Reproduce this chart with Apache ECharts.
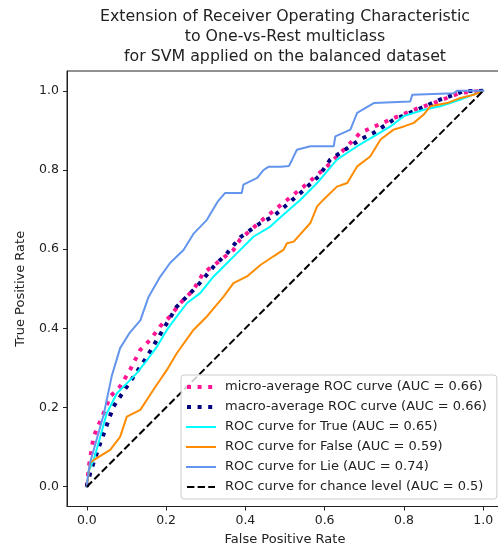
<!DOCTYPE html>
<html><head><meta charset="utf-8">
<script src="https://cdn.jsdelivr.net/npm/echarts@6/dist/echarts.min.js"></script>
<style>html,body{margin:0;padding:0;background:#fff}#c{width:498px;height:548px}</style>
</head><body><div id="c"></div>
<script>
const titleText = "Extension of Receiver Operating Characteristic\nto One-vs-Rest multiclass\nfor SVM applied on the balanced dataset";
const xName = "False Positive Rate";
const yName = "True Positive Rate";
const tickValues = [0, 0.2, 0.4, 0.6, 0.8, 1.0];

const microFpr = [0, 0.005, 0.017, 0.042, 0.059, 0.084, 0.109, 0.135, 0.16, 0.185, 0.21, 0.236, 0.269, 0.294, 0.328, 0.37, 0.387, 0.438, 0.496, 0.547, 0.606, 0.657, 0.69, 0.774, 0.825, 0.875, 0.943, 1];
const microTpr = [0, 0.05, 0.126, 0.185, 0.228, 0.253, 0.295, 0.346, 0.371, 0.405, 0.43, 0.464, 0.497, 0.54, 0.565, 0.598, 0.625, 0.67, 0.717, 0.758, 0.809, 0.86, 0.894, 0.931, 0.952, 0.969, 0.995, 1];

const macroFpr = [0, 0.01, 0.034, 0.067, 0.101, 0.118, 0.152, 0.177, 0.202, 0.227, 0.278, 0.32, 0.354, 0.387, 0.438, 0.471, 0.539, 0.585, 0.614, 0.69, 0.724, 0.774, 0.833, 0.892, 0.951, 1];
const macroTpr = [0, 0.04, 0.11, 0.202, 0.253, 0.278, 0.329, 0.371, 0.413, 0.455, 0.506, 0.556, 0.59, 0.63, 0.666, 0.683, 0.742, 0.784, 0.826, 0.877, 0.894, 0.927, 0.952, 0.978, 0.999, 1];

const trueFpr = [0, 0.005, 0.017, 0.034, 0.05, 0.076, 0.101, 0.126, 0.152, 0.177, 0.202, 0.227, 0.253, 0.286, 0.32, 0.354, 0.379, 0.421, 0.463, 0.488, 0.539, 0.581, 0.631, 0.682, 0.724, 0.766, 0.80, 0.85, 0.892, 0.943, 1];
const trueTpr = [0, 0.04, 0.067, 0.126, 0.185, 0.236, 0.261, 0.287, 0.32, 0.354, 0.396, 0.43, 0.464, 0.489, 0.531, 0.565, 0.59, 0.632, 0.657, 0.68, 0.725, 0.767, 0.826, 0.86, 0.885, 0.91, 0.936, 0.952, 0.961, 0.978, 1];

const falseFpr = [0, 0.004, 0.008, 0.017, 0.059, 0.084, 0.101, 0.135, 0.168, 0.202, 0.227, 0.269, 0.303, 0.345, 0.37, 0.404, 0.438, 0.471, 0.496, 0.505, 0.522, 0.564, 0.581, 0.597, 0.631, 0.657, 0.682, 0.715, 0.741, 0.774, 0.80, 0.825, 0.85, 0.867, 0.909, 0.943, 0.976, 1];
const falseTpr = [0, 0.03, 0.06, 0.067, 0.093, 0.126, 0.177, 0.194, 0.245, 0.295, 0.337, 0.396, 0.43, 0.48, 0.514, 0.531, 0.56, 0.582, 0.598, 0.615, 0.619, 0.666, 0.708, 0.725, 0.758, 0.767, 0.809, 0.834, 0.877, 0.902, 0.91, 0.919, 0.94, 0.961, 0.969, 0.982, 0.99, 1];

const lieFpr = [0, 0.003, 0.008, 0.025, 0.042, 0.063, 0.084, 0.109, 0.135, 0.156, 0.185, 0.21, 0.244, 0.27, 0.303, 0.33, 0.349, 0.391, 0.395, 0.43, 0.446, 0.458, 0.49, 0.51, 0.518, 0.53, 0.564, 0.623, 0.627, 0.665, 0.682, 0.724, 0.816, 0.821, 0.926, 0.934, 1];
const lieTpr = [0, 0.03, 0.06, 0.12, 0.18, 0.28, 0.35, 0.39, 0.42, 0.48, 0.53, 0.565, 0.598, 0.64, 0.674, 0.72, 0.742, 0.742, 0.763, 0.78, 0.80, 0.808, 0.808, 0.81, 0.826, 0.851, 0.86, 0.86, 0.885, 0.902, 0.944, 0.969, 0.973, 0.99, 0.994, 1.0, 1];

const chanceFpr = [0, 1];
const chanceTpr = [0, 1];

const seriesNames = [
  "micro-average ROC curve (AUC = 0.66)",
  "macro-average ROC curve (AUC = 0.66)",
  "ROC curve for True (AUC = 0.65)",
  "ROC curve for False (AUC = 0.59)",
  "ROC curve for Lie (AUC = 0.74)",
  "ROC curve for chance level (AUC = 0.5)"
];
const seriesColors = ['#FF1493', '#000080', '#00FFFF', '#FF8C00', '#6495ED', '#000000'];

function zip(a, b) { return a.map((v, i) => [v, b[i]]); }

const FONT = "DejaVu Sans";
const TXT = "#222";
const DOT = [4, 6.6];
const DASH = [7.4, 3.2];
const styles = [
  { width: 4, type: DOT, cap: 'butt' },
  { width: 4, type: DOT, cap: 'butt' },
  { width: 2, type: 'solid', cap: 'square' },
  { width: 2, type: 'solid', cap: 'square' },
  { width: 2, type: 'solid', cap: 'square' },
  { width: 2, type: DASH, cap: 'butt' }
];
const dataSets = [
  [microFpr, microTpr], [macroFpr, macroTpr], [trueFpr, trueTpr],
  [falseFpr, falseTpr], [lieFpr, lieTpr], [chanceFpr, chanceTpr]
];

const series = seriesNames.map((name, i) => ({
  name: name, type: 'line', data: zip(dataSets[i][0], dataSets[i][1]),
  showSymbol: false, symbol: 'none', smooth: false, animation: false,
  lineStyle: Object.assign({ color: seriesColors[i] }, styles[i]),
  itemStyle: { color: seriesColors[i] }
}));

const chart = echarts.init(document.getElementById('c'), null, { renderer: 'canvas' });
const axisCommon = {
  type: 'value', min: -0.05, max: 1.05, splitLine: { show: false },
  axisLine: { show: true, onZero: false, lineStyle: { color: '#222', width: 1 } },
  axisTick: { show: true, customValues: tickValues, length: 4, lineStyle: { color: '#222', width: 1 } },
  axisLabel: { customValues: tickValues, formatter: v => v.toFixed(1), color: TXT, fontFamily: FONT, fontSize: 12.5, margin: 8 },
  nameLocation: 'middle',
  nameTextStyle: { color: TXT, fontFamily: FONT, fontSize: 13 }
};
chart.setOption({
  animation: false,
  backgroundColor: '#fff',
  title: {
    text: titleText, left: 285, top: 7, textAlign: 'center', padding: 0,
    textStyle: { fontFamily: FONT, fontSize: 15.8, fontWeight: 'normal', color: TXT, lineHeight: 20 }
  },
  grid: { left: 67, top: 71, width: 436, height: 435.5, show: true, borderColor: '#222', borderWidth: 1, containLabel: false, outerBoundsMode: 'none' },
  xAxis: Object.assign({}, axisCommon, { name: xName, nameGap: 27 }),
  yAxis: Object.assign({}, axisCommon, { name: yName, nameGap: 40 }),
  legend: {
    orient: 'vertical', left: 181, top: 375,
    data: seriesNames.map((n, i) => ({
      name: n,
      itemStyle: { opacity: 0 },
      lineStyle: Object.assign({ color: seriesColors[i] }, styles[i])
    })),
    itemWidth: 28, itemHeight: 14, itemGap: 6,
    padding: [5, 10, 5, 4],
    itemStyle: { opacity: 0 },
    backgroundColor: 'rgba(255,255,255,0.8)', borderColor: '#cccccc', borderWidth: 1, borderRadius: 3,
    textStyle: { fontFamily: FONT, fontSize: 13, color: TXT, lineHeight: 14, padding: [0, 0, 0, 5] }
  },
  series: series
});
</script></body></html>
